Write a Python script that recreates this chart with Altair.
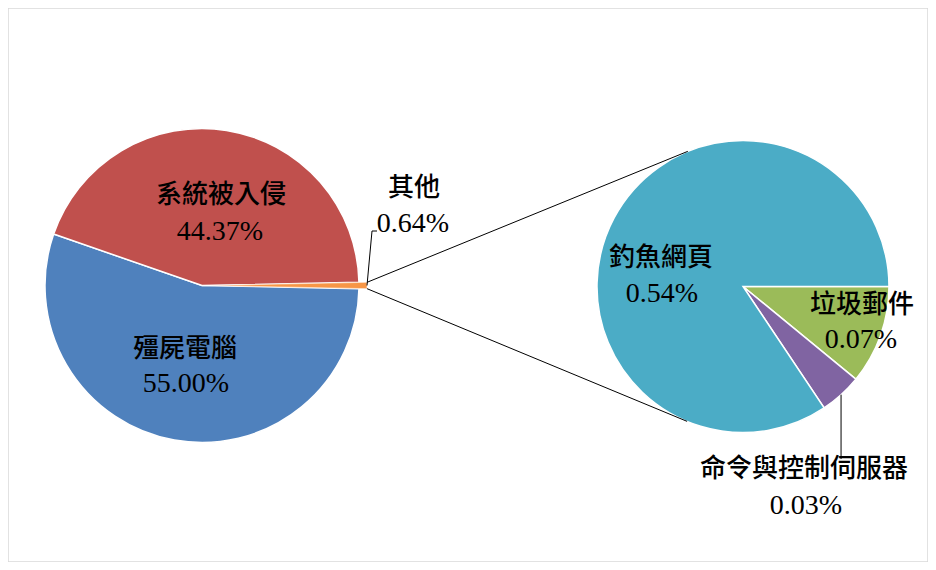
import math
import altair as alt
import pandas as pd

# ---------------- data ----------------
main_labels = ["殭屍電腦", "系統被入侵", "其他"]
main_values = [55.00, 44.37, 0.64]
sub_labels = ["垃圾郵件", "命令與控制伺服器", "釣魚網頁"]
sub_values = [0.07, 0.03, 0.54]

main_colors = ["#4F81BD", "#C0504D", "#F79646"]
sub_colors = ["#9BBB59", "#8064A2", "#4BACC6"]

# ---------------- layout (image pixels) ----------------
W, H = 920, 554
OFF = 8                      # page margin
C1, R1 = (202.0, 285.5), 157  # primary pie
C2, R2 = (743.0, 286.5), 146  # secondary pie
EXPLODE = 8
NAME_FONT = "Noto Sans CJK TC"
NUM_FONT = "Liberation Serif"
label_pos = {
    "系統被入侵": ((221, 195), (220, 231)),
    "殭屍電腦": ((185, 349), (186, 383)),
    "其他": ((414, 188), (413, 223)),
    "釣魚網頁": ((661, 258), (662, 293)),
    "垃圾郵件": ((862, 305), (861, 339)),
    "命令與控制伺服器": ((804, 469), (806, 505)),
}
other_elbow = [(372, 231), (377, 231)]
cc_leader_end_y = 459


def px(v):
    return v - OFF


# ---------------- primary pie ----------------
tot1 = sum(main_values)
main_df = pd.DataFrame({"category": main_labels, "value": main_values})
main_df["end"] = main_df["value"].cumsum()
main_df["start"] = main_df["end"] - main_df["value"]
other_share = main_values[2] / tot1
a0 = math.pi / 2 + other_share * math.pi  # other slice centred at 3 o'clock
theta1 = alt.Scale(domain=[0, tot1], range=[a0, a0 + 2 * math.pi])

# secondary pie
tot2 = sum(sub_values)
sub_df = pd.DataFrame({"category": sub_labels, "value": sub_values})
sub_df["end"] = sub_df["value"].cumsum()
sub_df["start"] = sub_df["end"] - sub_df["value"]
b0 = math.pi / 2
theta2 = alt.Scale(domain=[0, tot2], range=[b0, b0 + 2 * math.pi])

color = alt.Color(
    "category:N",
    scale=alt.Scale(domain=main_labels + sub_labels, range=main_colors + sub_colors),
    legend=None,
)

# angles of the 'other' slice
o_start = a0 + (main_df.loc[2, "start"] / tot1) * 2 * math.pi
o_end = a0 + (main_df.loc[2, "end"] / tot1) * 2 * math.pi
o_mid = (o_start + o_end) / 2
EC = (C1[0] + EXPLODE * math.sin(o_mid), C1[1] - EXPLODE * math.cos(o_mid))

pie_main = (
    alt.Chart(main_df[main_df["category"] != "其他"])
    .mark_arc(radius=R1, stroke="white", strokeWidth=1.5)
    .encode(
        theta=alt.Theta("start:Q", scale=theta1),
        theta2="end:Q",
        color=color,
        x=alt.value(px(C1[0])),
        y=alt.value(px(C1[1])),
    )
)
pie_other = (
    alt.Chart(main_df[main_df["category"] == "其他"])
    .mark_arc(radius=R1, stroke="white", strokeWidth=0.5)
    .encode(
        theta=alt.Theta("start:Q", scale=theta1),
        theta2="end:Q",
        color=color,
        x=alt.value(px(EC[0])),
        y=alt.value(px(EC[1])),
    )
)
pie_sub = (
    alt.Chart(sub_df)
    .mark_arc(radius=R2, stroke="white", strokeWidth=1.5)
    .encode(
        theta=alt.Theta("start:Q", scale=theta2),
        theta2="end:Q",
        color=color,
        x=alt.value(px(C2[0])),
        y=alt.value(px(C2[1])),
    )
)


# ---------------- connector lines (tangents) ----------------
def tangent(p, c, r, sign):
    dx, dy = p[0] - c[0], p[1] - c[1]
    d = math.hypot(dx, dy)
    base = math.atan2(dy, dx)
    a = math.acos(r / d)
    ang = base + sign * a
    return (c[0] + r * math.cos(ang), c[1] + r * math.sin(ang))


p_top = (EC[0] + R1 * math.sin(o_start), EC[1] - R1 * math.cos(o_start))
p_bot = (EC[0] + R1 * math.sin(o_end), EC[1] - R1 * math.cos(o_end))
t_top = tangent(p_top, C2, R2, 1)
t_bot = tangent(p_bot, C2, R2, -1)
conn_df = pd.DataFrame(
    {
        "x": [px(p_top[0]), px(p_bot[0])],
        "y": [px(p_top[1]), px(p_bot[1])],
        "x2": [px(t_top[0]), px(t_bot[0])],
        "y2": [px(t_top[1]), px(t_bot[1])],
    }
)
connectors = (
    alt.Chart(conn_df)
    .mark_rule(color="black", strokeWidth=1)
    .encode(
        x=alt.X("x:Q", scale=None),
        y=alt.Y("y:Q", scale=None),
        x2="x2:Q",
        y2="y2:Q",
    )
)

# ---------------- leader lines ----------------
tip = (EC[0] + R1 * math.sin(o_mid), EC[1] - R1 * math.cos(o_mid))
cc_start = sub_df.loc[1, "start"] / tot2 * 2 * math.pi + b0
cc_end = sub_df.loc[1, "end"] / tot2 * 2 * math.pi + b0
cc_mid = (cc_start + cc_end) / 2
cc_pt = (C2[0] + R2 * math.sin(cc_mid), C2[1] - R2 * math.cos(cc_mid))
lead_rows = []
for i, p in enumerate([tip] + other_elbow):
    lead_rows.append({"g": "o", "i": i, "x": px(p[0]), "y": px(p[1])})
lead_rows.append({"g": "c", "i": 0, "x": px(cc_pt[0]), "y": px(cc_pt[1])})
lead_rows.append({"g": "c", "i": 1, "x": px(cc_pt[0]), "y": px(cc_leader_end_y)})
leaders = (
    alt.Chart(pd.DataFrame(lead_rows))
    .mark_line(color="black", strokeWidth=1)
    .encode(
        x=alt.X("x:Q", scale=None),
        y=alt.Y("y:Q", scale=None),
        detail="g:N",
        order="i:Q",
    )
)

# ---------------- labels ----------------
name_rows, val_rows = [], []
for name, val in zip(main_labels + sub_labels, main_values + sub_values):
    (nx, ny), (vx, vy) = label_pos[name]
    name_rows.append({"t": name, "x": px(nx), "y": px(ny)})
    val_rows.append({"t": f"{val:.2f}%", "x": px(vx), "y": px(vy)})
name_labels = (
    alt.Chart(pd.DataFrame(name_rows))
    .mark_text(font=NAME_FONT, fontSize=26, fontWeight=500, color="black",
               align="center", baseline="middle")
    .encode(x=alt.X("x:Q", scale=None), y=alt.Y("y:Q", scale=None), text="t:N")
)
val_labels = (
    alt.Chart(pd.DataFrame(val_rows))
    .mark_text(font=NUM_FONT, fontSize=28, color="black",
               align="center", baseline="middle", dy=1)
    .encode(x=alt.X("x:Q", scale=None), y=alt.Y("y:Q", scale=None), text="t:N")
)

chart = (
    alt.layer(pie_main, pie_other, pie_sub, connectors, leaders, name_labels, val_labels)
    .resolve_scale(theta="independent")
    .properties(width=W, height=H, padding=0)
    .configure_view(stroke="#D9D9D9", strokeWidth=1.5)
)

chart.save("out.html", embed_options={"renderer": "svg", "actions": False})
